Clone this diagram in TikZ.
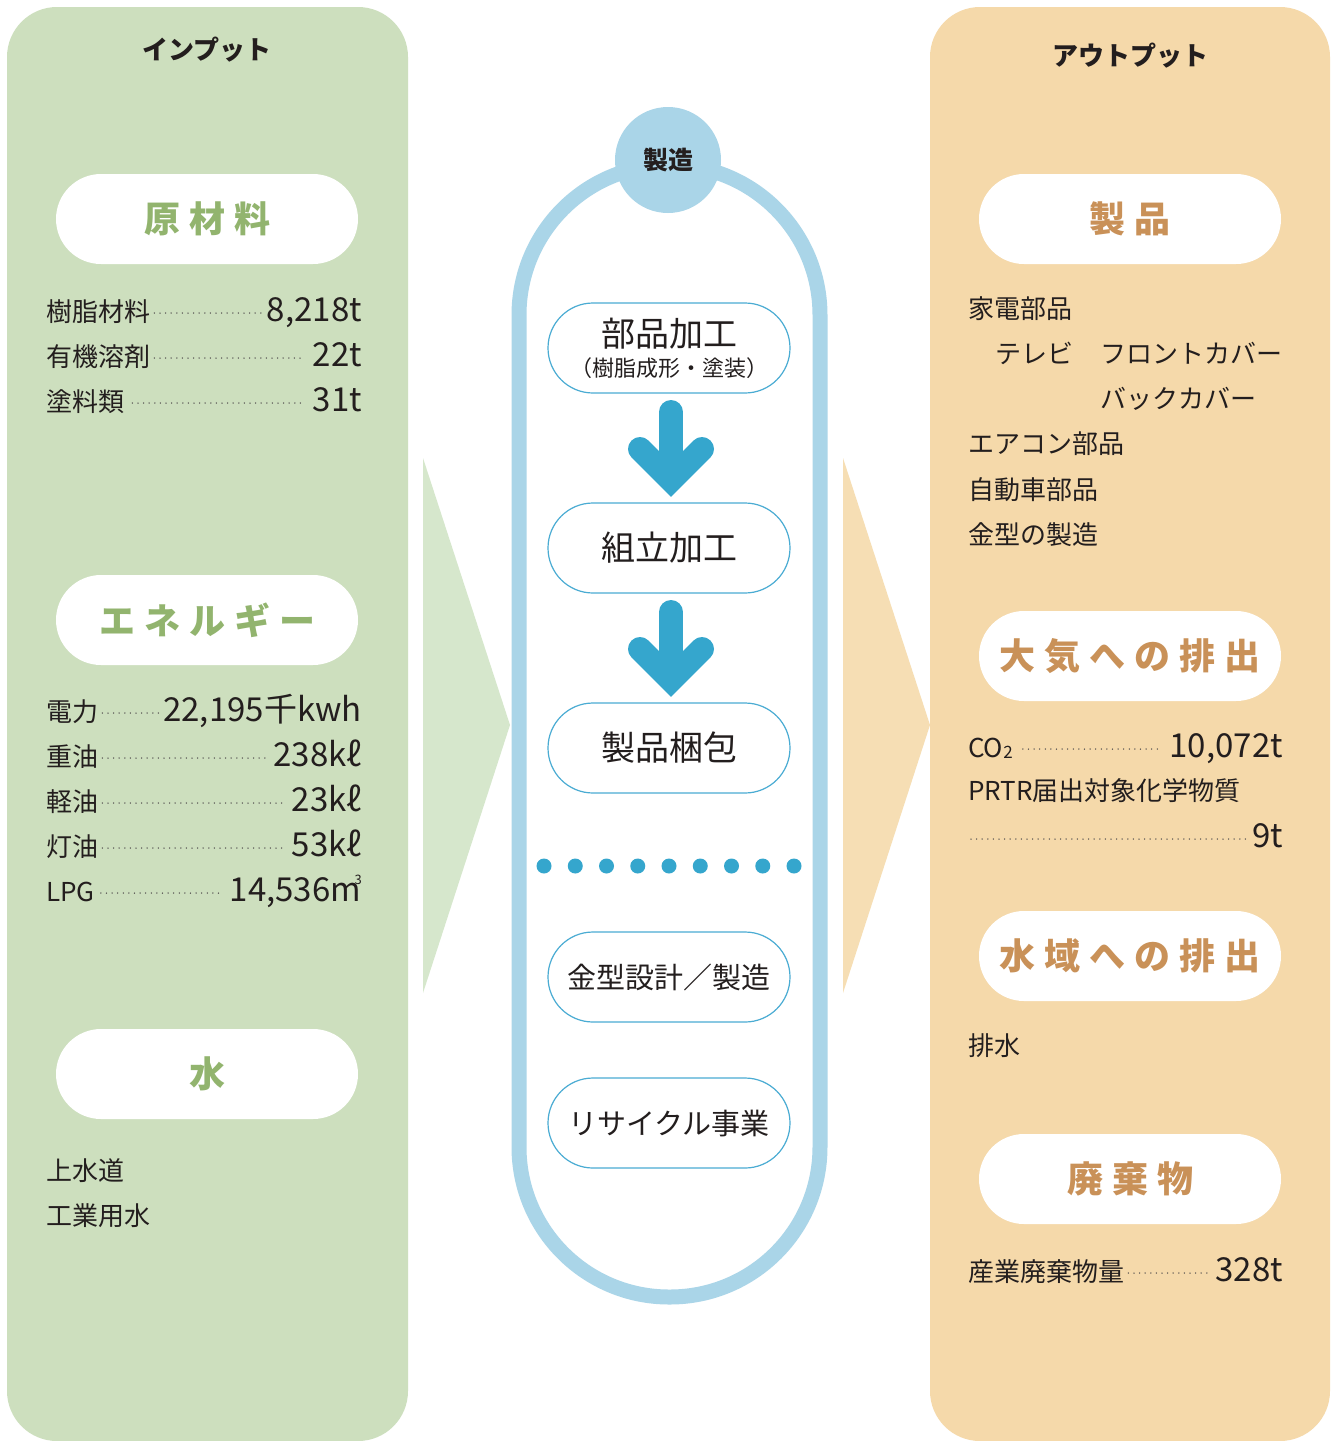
\documentclass[tikz,border=0pt]{standalone}
\usepackage{fontspec}
\setmainfont{Noto Sans CJK JP}
\definecolor{greenbg}{RGB}{205,223,190}
\definecolor{greenchev}{RGB}{214,231,204}
\definecolor{orangebg}{RGB}{245,217,170}
\definecolor{orangechev}{RGB}{246,222,180}
\definecolor{greentx}{RGB}{146,180,110}
\definecolor{orangetx}{RGB}{201,145,88}
\definecolor{ringblue}{RGB}{170,213,232}
\definecolor{arrowblue}{RGB}{53,166,205}
\definecolor{boxblue}{RGB}{74,172,211}
\definecolor{txt}{RGB}{35,30,30}
\newcommand\myfs[1]{\fontsize{#1}{#1}\selectfont}
\newcommand\gap{\hspace{0.25em}}
\begin{document}
\begin{tikzpicture}[x=1pt,y=-1pt,
  pill/.style={fill=white, rounded corners=45pt, minimum width=302pt, minimum height=90pt, inner sep=0pt, font=\myfs{36}\bfseries},
  gpill/.style={pill, text=greentx},
  opill/.style={pill, text=orangetx},
  head/.style={font=\myfs{26}\bfseries, text=txt, inner sep=0pt},
  item/.style={font=\myfs{26}, text=txt, inner sep=0pt, anchor=base west},
  num/.style={font=\myfs{33}, text=txt, inner sep=0pt, anchor=base east},
  leader/.style={draw=txt!80, line width=1.5pt, line cap=round, dash pattern=on 0pt off 5.6pt},
  procbox/.style={draw=boxblue, line width=1.2pt, fill=white, rounded corners=45pt, minimum width=242pt, minimum height=90pt, inner sep=0pt, font=\myfs{34}, text=txt, align=center},
  downarrow/.style={draw=arrowblue, line width=24pt, line cap=round},
  dot/.style={circle, fill=arrowblue, minimum size=15pt, inner sep=0pt}
]
\useasboundingbox (0,0) rectangle (1338,1441);
\fill[white] (0,0) rectangle (1338,1441);

% panels
\fill[greenbg, rounded corners=50pt] (7,7) rectangle (408,1441);
\fill[orangebg, rounded corners=50pt] (930,7) rectangle (1330,1441);
% chevrons
\fill[greenchev] (423,458) -- (510,725) -- (423,993) -- cycle;
\fill[orangechev] (843,458) -- (930,725) -- (843,993) -- cycle;

% central ring
\draw[ringblue, line width=15pt, rounded corners=150pt] (519,165) rectangle (820,1297);
\node[circle, fill=ringblue, minimum size=106pt, inner sep=0pt, font=\myfs{25}\bfseries, text=txt] (mfg) at (668,160) {製造};

% process boxes
\node[procbox] (p1) at (669,348) {部品加工\\[-4pt]{\myfs{22}（樹脂成形・塗装）}};
\node[procbox] (p2) at (669,548) {組立加工};
\node[procbox] (p3) at (669,748) {製品梱包};
\node[procbox, font=\myfs{29}] (p4) at (669,977) {金型設計／製造};
\node[procbox, font=\myfs{29}] (p5) at (669,1123) {リサイクル事業};

% down arrows
\coordinate (a1top) at (671,412);
\coordinate (a1tip) at (671,480);
\draw[downarrow] (a1top) -- (671,470);
\draw[downarrow, line join=miter] (640,449) -- (a1tip) -- (702,449);
\coordinate (a2top) at (671,612);
\coordinate (a2tip) at (671,680);
\draw[downarrow] (a2top) -- (671,670);
\draw[downarrow, line join=miter] (640,649) -- (a2tip) -- (702,649);

% dots
\foreach \i in {0,...,8} {
  \node[dot] (d\i) at ({544+31.25*\i},866) {};
}

% ===== left panel =====
\node[head] (inH) at (207,50) {インプット};
\node[gpill] (raw) at (207,219) {原\gap 材\gap 料};
\node[item] (r1) at (46,321) {樹脂材料};
\node[num] (r1n) at (362,321) {8,218t};
\draw[leader] ([xshift=4pt,yshift=8pt]r1.base east) -- ([xshift=-4pt,yshift=8pt]r1n.base west);
\node[item] (r2) at (46,366) {有機溶剤};
\node[num] (r2n) at (362,366) {22t};
\draw[leader] ([xshift=4pt,yshift=8pt]r2.base east) -- ([xshift=-10pt,yshift=8pt]r2n.base west);
\node[item] (r3) at (46,411) {塗料類};
\node[num] (r3n) at (362,411) {31t};
\draw[leader] ([xshift=8pt,yshift=8pt]r3.base east) -- ([xshift=-10pt,yshift=8pt]r3n.base west);

\node[gpill] (en) at (207,620) {エ\gap ネ\gap ル\gap ギ\gap ー};
\node[item] (e1) at (46,721) {電力};
\node[num] (e1n) at (362,721) {22,195千kwh};
\draw[leader] ([xshift=4pt,yshift=8pt]e1.base east) -- ([xshift=-4pt,yshift=8pt]e1n.base west);
\node[item] (e2) at (46,766) {重油};
\node[num] (e2n) at (362,766) {238kℓ};
\draw[leader] ([xshift=4pt,yshift=8pt]e2.base east) -- ([xshift=-4pt,yshift=8pt]e2n.base west);
\node[item] (e3) at (46,811) {軽油};
\node[num] (e3n) at (362,811) {23kℓ};
\draw[leader] ([xshift=4pt,yshift=8pt]e3.base east) -- ([xshift=-8pt,yshift=8pt]e3n.base west);
\node[item] (e4) at (46,856) {灯油};
\node[num] (e4n) at (362,856) {53kℓ};
\draw[leader] ([xshift=4pt,yshift=8pt]e4.base east) -- ([xshift=-8pt,yshift=8pt]e4n.base west);
\node[item] (e5) at (46,901) {LPG};
\node[num] (e5n) at (362,901) {14,536m\kern-0.2em\raisebox{0.5em}{\myfs{13}3}};
\draw[leader] ([xshift=6pt,yshift=8pt]e5.base east) -- ([xshift=-8pt,yshift=8pt]e5n.base west);

\node[gpill] (water) at (207,1074) {水};
\node[item] (w1) at (46,1180) {上水道};
\node[item] (w2) at (46,1225) {工業用水};

% ===== right panel =====
\node[head] (outH) at (1130,56) {アウトプット};
\node[opill] (prod) at (1130,219) {製\gap 品};
\node[item] (o1) at (968,318) {家電部品};
\node[item] (o2) at (995,363) {テレビ};
\node[item] (o3) at (1100,363) {フロントカバー};
\node[item] (o4) at (1100,408) {バックカバー};
\node[item] (o5) at (968,453) {エアコン部品};
\node[item] (o6) at (968,499) {自動車部品};
\node[item] (o7) at (968,544) {金型の製造};

\node[opill] (air) at (1130,656) {大\gap 気\gap へ\gap の\gap 排\gap 出};
\node[item] (c1) at (968,757) {CO\raisebox{-0.05em}{\myfs{17}2}};
\node[num] (c1n) at (1283,757) {10,072t};
\draw[leader] ([xshift=10pt,yshift=8pt]c1.base east) -- ([xshift=-8pt,yshift=8pt]c1n.base west);
\node[item] (c2) at (968,800) {PRTR届出対象化学物質};
\coordinate (c3s) at (971,839);
\node[num] (c3n) at (1283,847) {9t};
\draw[leader] (c3s) -- ([xshift=-4pt,yshift=8pt]c3n.base west);

\node[opill] (wat) at (1130,956) {水\gap 域\gap へ\gap の\gap 排\gap 出};
\node[item] (h1) at (968,1055) {排水};

\node[opill] (waste) at (1130,1179) {廃\gap 棄\gap 物};
\node[item] (x1) at (968,1281) {産業廃棄物量};
\node[num] (x1n) at (1283,1281) {328t};
\draw[leader] ([xshift=4pt,yshift=8pt]x1.base east) -- ([xshift=-4pt,yshift=8pt]x1n.base west);
\end{tikzpicture}
\end{document}
